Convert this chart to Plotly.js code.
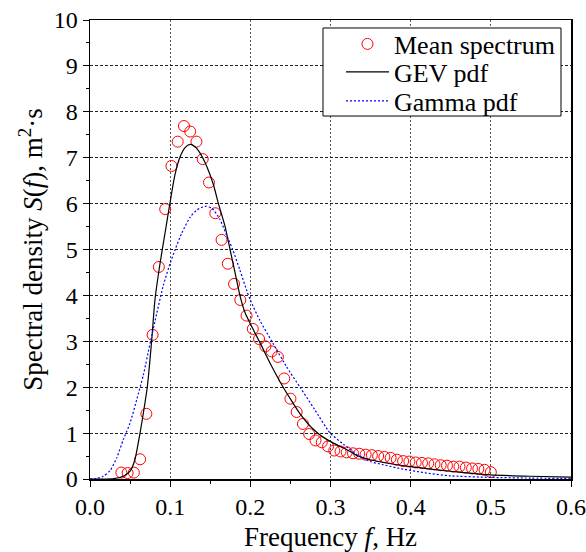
<!DOCTYPE html>
<html>
<head>
<meta charset="utf-8">
<script src="https://cdn.plot.ly/plotly-3.0.1.min.js"></script>
<style>html,body{margin:0;padding:0;background:#fff;}#chart{width:586px;height:552px;}</style>
</head>
<body>
<div id="chart"></div>
<script>
// Mean spectrum (circles)
const specFreq = [0.0391,0.0469,0.0547,0.0625,0.0703,0.0781,0.0859,0.0938,0.1016,0.1094,
  0.1172,0.1250,0.1328,0.1406,0.1484,0.1563,0.1641,0.1719,0.1797,0.1875,
  0.1953,0.2031,0.2109,0.2188,0.2266,0.2344,0.2422,0.2500,0.2578,0.2656,
  0.2734,0.2813,0.2891,0.2969,0.3047,0.3125,0.3203,0.3281,0.3359,0.3438,
  0.3516,0.3594,0.3672,0.3750,0.3828,0.3906,0.3984,0.4063,0.4141,0.4219,
  0.4297,0.4375,0.4453,0.4531,0.4609,0.4688,0.4766,0.4844,0.4922,0.5000];
const specVal = [0.14,0.13,0.14,0.43,1.42,3.14,4.62,5.88,6.82,7.35,
  7.69,7.57,7.35,6.97,6.46,5.79,5.21,4.69,4.25,3.90,
  3.56,3.27,3.05,2.89,2.78,2.66,2.19,1.75,1.46,1.20,
  0.98,0.84,0.80,0.71,0.62,0.60,0.58,0.56,0.55,0.53,
  0.52,0.50,0.48,0.46,0.42,0.39,0.38,0.36,0.35,0.34,
  0.32,0.30,0.29,0.27,0.27,0.25,0.23,0.22,0.20,0.15];

// GEV pdf (solid black)
const gevFreq = [0,0.02,0.03,0.0416,0.05,0.056,0.0624,0.0666,0.0716,0.077,
  0.081,0.0874,0.0936,0.1,0.106,0.1124,0.1186,0.1248,0.131,0.1373,
  0.1457,0.154,0.16,0.1685,0.1748,0.181,0.1873,0.1935,0.2,0.2123,
  0.2268,0.237,0.2497,0.262,0.2747,0.287,0.2996,0.312,0.3246,0.333,
  0.3496,0.366,0.3995,0.433,0.466,0.4994,0.549,0.6];
const gevVal = [0,0,0.01,0.06,0.17,0.42,1.00,1.44,2.02,3.03,
  3.90,4.70,5.36,6.04,6.63,7.02,7.22,7.29,7.24,7.10,
  6.81,6.41,6.01,5.50,4.99,4.49,3.98,3.62,3.38,2.96,
  2.45,2.12,1.75,1.42,1.15,0.96,0.82,0.71,0.60,0.51,
  0.42,0.36,0.27,0.20,0.14,0.09,0.06,0.04];

// Gamma pdf (dotted blue)
const gamFreq = [0,0.0083,0.0166,0.025,0.0333,0.0416,0.05,0.0583,0.0666,0.075,
  0.0833,0.0915,0.1,0.106,0.1145,0.1248,0.1332,0.1436,0.152,0.162,
  0.1707,0.178,0.187,0.1956,0.2,0.212,0.2268,0.245,0.262,0.28,
  0.2996,0.316,0.333,0.3496,0.366,0.383,0.416,0.449,0.4994,0.55,0.6];
const gamVal = [0,0.01,0.06,0.18,0.46,0.86,1.22,1.73,2.27,2.96,
  3.61,4.22,4.70,4.99,5.36,5.70,5.86,5.94,5.90,5.66,
  5.30,5.00,4.55,4.10,3.90,3.45,3.00,2.45,2.00,1.52,
  1.00,0.76,0.53,0.38,0.31,0.24,0.14,0.07,0.035,0.02,0.01];

const seriesNames = ['Mean spectrum','GEV pdf','Gamma pdf'];
const xTickVals = [0,0.1,0.2,0.3,0.4,0.5,0.6];
const xTickText = ['0.0','0.1','0.2','0.3','0.4','0.5','0.6'];
const yTickVals = [0,1,2,3,4,5,6,7,8,9,10];
const yTickText = ['0','1','2','3','4','5','6','7','8','9','10'];

const FONT = 'Liberation Serif';

const traces = [
  {x: specFreq, y: specVal, name: seriesNames[0], type: 'scatter', mode: 'markers', legend: 'legend',
   marker: {symbol: 'circle-open', size: 11, color: '#ff0000', line: {width: 1, color: '#ff0000'}}},
  {x: gevFreq, y: gevVal, name: seriesNames[1], type: 'scatter', mode: 'lines', legend: 'legend2',
   line: {color: '#000000', width: 1.2, shape: 'spline', smoothing: 0.6}},
  {x: gamFreq, y: gamVal, name: seriesNames[2], type: 'scatter', mode: 'lines', legend: 'legend3',
   line: {color: '#0000ff', width: 1.2, dash: '2px,2px', shape: 'spline', smoothing: 0.6}}
];

function legendAt(yc) {
  return {x: 0.5218, y: yc, xanchor: 'left', yanchor: 'middle',
    bgcolor: 'rgba(0,0,0,0)', borderwidth: 0, itemwidth: 43,
    font: {family: FONT, size: 26, color: '#000'}};
}

const layout = {
  width: 586, height: 552,
  margin: {l: 90, r: 15, t: 20, b: 73},
  paper_bgcolor: '#ffffff', plot_bgcolor: '#ffffff',
  font: {family: FONT, size: 24, color: '#000'},
  showlegend: true,
  legend: legendAt(0.9477),
  legend2: legendAt(0.8867),
  legend3: legendAt(0.8235),
  shapes: [{type: 'rect', xref: 'paper', yref: 'paper', x0: 0.4844, x1: 0.9792, y0: 0.7908, y1: 0.9826,
    line: {color: '#000', width: 1}, fillcolor: '#ffffff', layer: 'above'}],
  xaxis: {
    range: [0, 0.6], tickvals: xTickVals, ticktext: xTickText,
    showline: true, linecolor: '#000', linewidth: 1.5, mirror: true,
    ticks: 'outside', ticklen: 6, tickwidth: 1, tickcolor: '#000',
    minor: {dtick: 0.05, tick0: 0, ticks: 'outside', ticklen: 3, tickcolor: '#000', showgrid: false},
    showgrid: true, gridcolor: '#555555', gridwidth: 1, griddash: '2px,2px', zeroline: false,
    tickfont: {family: FONT, size: 24},
    title: {text: 'Frequency <i>f</i>, Hz', font: {family: FONT, size: 27}, standoff: 8}
  },
  yaxis: {
    range: [0, 10], tickvals: yTickVals, ticktext: yTickText,
    showline: true, linecolor: '#000', linewidth: 1.5, mirror: true,
    ticks: 'outside', ticklen: 6, tickwidth: 1, tickcolor: '#000',
    minor: {dtick: 0.5, tick0: 0, ticks: 'outside', ticklen: 3, tickcolor: '#000', showgrid: false},
    showgrid: true, gridcolor: '#222222', gridwidth: 1, griddash: '3px,2px', zeroline: false,
    tickfont: {family: FONT, size: 24},
    title: {text: 'Spectral density <i>S</i>(<i>f</i>), m<sup>2</sup>·s', font: {family: FONT, size: 27}, standoff: 3}
  }
};

Plotly.newPlot('chart', traces, layout, {displayModeBar: false, staticPlot: true});
</script>
</body>
</html>
